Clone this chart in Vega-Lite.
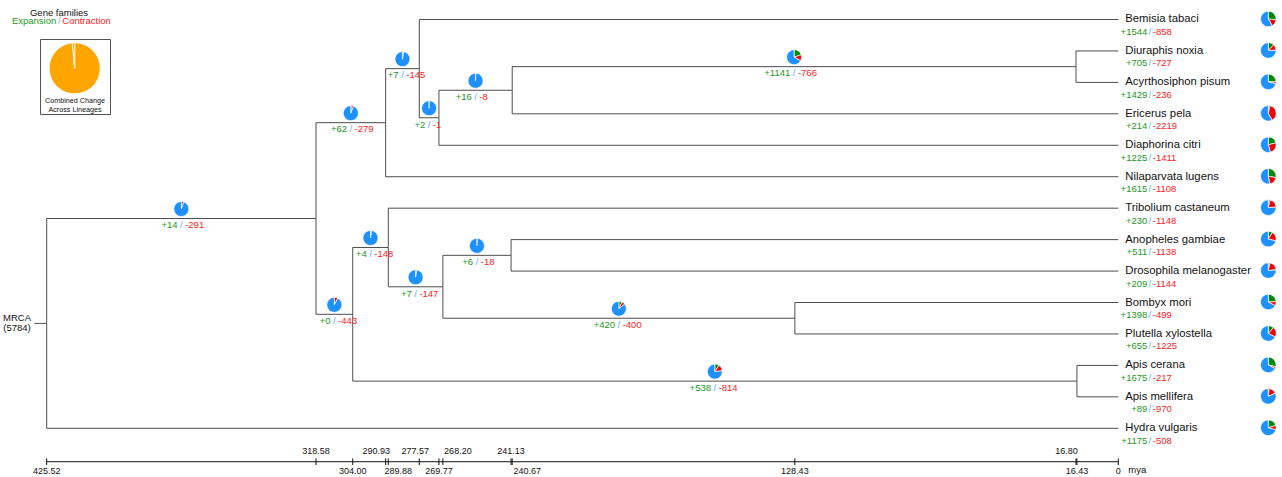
{
  "$schema": "https://vega.github.io/schema/vega-lite/v6.json",
  "width": 1282,
  "height": 477,
  "padding": 0,
  "autosize": {"type": "none"},
  "background": "white",
  "config": {
    "view": {"stroke": null},
    "font": "Liberation Sans",
    "locale": {"number": {"decimal": ".", "thousands": ",", "grouping": [3], "currency": ["$", ""], "minus": "-"}}
  },
  "datasets": {
    "phylo": [
      {"name": "Bemisia tabaci", "leaf": true, "t": 0, "pt": 277.57, "y": 0, "py": 1.5625, "gain": 1544, "loss": -858, "same": 3382},
      {"name": "Diuraphis noxia", "leaf": true, "t": 0, "pt": 16.80, "y": 1, "py": 1.5, "gain": 705, "loss": -727, "same": 4352},
      {"name": "Acyrthosiphon pisum", "leaf": true, "t": 0, "pt": 16.80, "y": 2, "py": 1.5, "gain": 1429, "loss": -236, "same": 4119},
      {"name": "Ericerus pela", "leaf": true, "t": 0, "pt": 240.67, "y": 3, "py": 2.25, "gain": 214, "loss": -2219, "same": 3351},
      {"name": "Diaphorina citri", "leaf": true, "t": 0, "pt": 269.77, "y": 4, "py": 3.125, "gain": 1225, "loss": -1411, "same": 3148},
      {"name": "Nilaparvata lugens", "leaf": true, "t": 0, "pt": 290.93, "y": 5, "py": 3.28125, "gain": 1615, "loss": -1108, "same": 3061},
      {"name": "Tribolium castaneum", "leaf": true, "t": 0, "pt": 289.88, "y": 6, "py": 7.25, "gain": 230, "loss": -1148, "same": 4406},
      {"name": "Anopheles gambiae", "leaf": true, "t": 0, "pt": 241.13, "y": 7, "py": 7.5, "gain": 511, "loss": -1138, "same": 4135},
      {"name": "Drosophila melanogaster", "leaf": true, "t": 0, "pt": 241.13, "y": 8, "py": 7.5, "gain": 209, "loss": -1144, "same": 4431},
      {"name": "Bombyx mori", "leaf": true, "t": 0, "pt": 128.43, "y": 9, "py": 9.5, "gain": 1398, "loss": -499, "same": 3887},
      {"name": "Plutella xylostella", "leaf": true, "t": 0, "pt": 128.43, "y": 10, "py": 9.5, "gain": 655, "loss": -1225, "same": 3904},
      {"name": "Apis cerana", "leaf": true, "t": 0, "pt": 16.43, "y": 11, "py": 11.5, "gain": 1675, "loss": -217, "same": 3892},
      {"name": "Apis mellifera", "leaf": true, "t": 0, "pt": 16.43, "y": 12, "py": 11.5, "gain": 89, "loss": -970, "same": 4725},
      {"name": "Hydra vulgaris", "leaf": true, "t": 0, "pt": 425.52, "y": 13, "py": 9.6640625, "gain": 1175, "loss": -508, "same": 4101},
      {"name": "N318.58", "leaf": false, "t": 318.58, "pt": 425.52, "y": 6.328125, "py": 9.6640625, "tm": 372.05, "gain": 14, "loss": -291, "same": 5479},
      {"name": "N290.93", "leaf": false, "t": 290.93, "pt": 318.58, "y": 3.28125, "py": 6.328125, "tm": 304.755, "gain": 62, "loss": -279, "same": 5443},
      {"name": "N304.00", "leaf": false, "t": 304.00, "pt": 318.58, "y": 9.375, "py": 6.328125, "tm": 311.29, "gain": 0, "loss": -443, "same": 5341},
      {"name": "N277.57", "leaf": false, "t": 277.57, "pt": 290.93, "y": 1.5625, "py": 3.28125, "tm": 284.25, "gain": 7, "loss": -145, "same": 5632},
      {"name": "N269.77", "leaf": false, "t": 269.77, "pt": 277.57, "y": 3.125, "py": 1.5625, "tm": 273.67, "gain": 2, "loss": -1, "same": 5781},
      {"name": "N240.67", "leaf": false, "t": 240.67, "pt": 269.77, "y": 2.25, "py": 3.125, "tm": 255.22, "gain": 16, "loss": -8, "same": 5760},
      {"name": "N16.80", "leaf": false, "t": 16.80, "pt": 240.67, "y": 1.5, "py": 2.25, "tm": 128.735, "gain": 1141, "loss": -766, "same": 3877},
      {"name": "N289.88", "leaf": false, "t": 289.88, "pt": 304.00, "y": 7.25, "py": 9.375, "tm": 296.94, "gain": 4, "loss": -148, "same": 5632},
      {"name": "N268.20", "leaf": false, "t": 268.20, "pt": 289.88, "y": 8.5, "py": 7.25, "tm": 279.04, "gain": 7, "loss": -147, "same": 5630},
      {"name": "N241.13", "leaf": false, "t": 241.13, "pt": 268.20, "y": 7.5, "py": 8.5, "tm": 254.665, "gain": 6, "loss": -18, "same": 5760},
      {"name": "N128.43", "leaf": false, "t": 128.43, "pt": 268.20, "y": 9.5, "py": 8.5, "tm": 198.315, "gain": 420, "loss": -400, "same": 4964},
      {"name": "N16.43", "leaf": false, "t": 16.43, "pt": 304.00, "y": 11.5, "py": 9.375, "tm": 160.215, "gain": 538, "loss": -814, "same": 4432}
    ],
    "mrca": [
      {"name": "MRCA", "t": 425.52, "y": 9.6640625, "label": "MRCA\n(5784)"}
    ],
    "timeticks": [
      {"t": 425.52, "label": "425.52", "side": "below"},
      {"t": 318.58, "label": "318.58", "side": "above"},
      {"t": 304.00, "label": "304.00", "side": "below"},
      {"t": 290.93, "label": "290.93", "side": "above"},
      {"t": 289.88, "label": "289.88", "side": "below"},
      {"t": 277.57, "label": "277.57", "side": "above"},
      {"t": 269.77, "label": "269.77", "side": "below"},
      {"t": 268.20, "label": "268.20", "side": "above"},
      {"t": 241.13, "label": "241.13", "side": "above"},
      {"t": 240.67, "label": "240.67", "side": "below"},
      {"t": 128.43, "label": "128.43", "side": "below"},
      {"t": 16.80, "label": "16.80", "side": "above"},
      {"t": 16.43, "label": "16.43", "side": "below"},
      {"t": 0, "label": "0", "side": "below"}
    ],
    "legendpie": [
      {"part": "combined", "v": 0.985},
      {"part": "rest", "v": 0.015}
    ]
  },
  "layer": [
    {
      "data": {"name": "phylo"},
      "mark": {"type": "rule", "color": "#4d4d4d", "strokeWidth": 1},
      "encoding": {
        "x": {"field": "pt", "type": "quantitative", "scale": {"domain": [-65.003, 444.064], "reverse": true, "zero": false, "nice": false}, "axis": null},
        "x2": {"field": "t"},
        "y": {"field": "y", "type": "quantitative", "scale": {"domain": [-0.6201, 14.549], "reverse": true, "zero": false, "nice": false}, "axis": null}
      }
    },
    {
      "data": {"name": "phylo"},
      "mark": {"type": "rule", "color": "#4d4d4d", "strokeWidth": 1},
      "encoding": {
        "x": {"field": "pt", "type": "quantitative", "scale": {"domain": [-65.003, 444.064], "reverse": true, "zero": false, "nice": false}, "axis": null},
        "y": {"field": "py", "type": "quantitative", "scale": {"domain": [-0.6201, 14.549], "reverse": true, "zero": false, "nice": false}, "axis": null},
        "y2": {"field": "y"}
      }
    },
    {
      "data": {"name": "mrca"},
      "mark": {"type": "rule", "color": "#4d4d4d", "strokeWidth": 1, "xOffset": -12.4},
      "encoding": {
        "x": {"field": "t", "type": "quantitative", "scale": {"domain": [-65.003, 444.064], "reverse": true, "zero": false, "nice": false}, "axis": null},
        "x2": {"field": "t"},
        "y": {"field": "y", "type": "quantitative", "scale": {"domain": [-0.6201, 14.549], "reverse": true, "zero": false, "nice": false}, "axis": null}
      }
    },
    {
      "data": {"name": "mrca"},
      "mark": {"type": "text", "align": "center", "baseline": "middle", "dx": -29.7, "dy": -5.5, "fontSize": 9.5, "lineBreak": "\n", "lineHeight": 10, "color": "#111"},
      "encoding": {
        "x": {"field": "t", "type": "quantitative", "scale": {"domain": [-65.003, 444.064], "reverse": true, "zero": false, "nice": false}, "axis": null},
        "y": {"field": "y", "type": "quantitative", "scale": {"domain": [-0.6201, 14.549], "reverse": true, "zero": false, "nice": false}, "axis": null},
        "text": {"field": "label"}
      }
    },
    {
      "data": {"name": "timeticks"},
      "mark": {"type": "rule", "color": "#111", "strokeWidth": 1, "yOffset": 2},
      "encoding": {
        "x": {"aggregate": "max", "field": "t", "type": "quantitative", "scale": {"domain": [-65.003, 444.064], "reverse": true, "zero": false, "nice": false}, "axis": null},
        "x2": {"aggregate": "min", "field": "t"},
        "y": {"datum": 14, "type": "quantitative", "scale": {"domain": [-0.6201, 14.549], "reverse": true, "zero": false, "nice": false}, "axis": null}
      }
    },
    {
      "data": {"name": "timeticks"},
      "mark": {"type": "rule", "color": "#111", "strokeWidth": 1, "yOffset": -1.3, "y2Offset": 5.3},
      "encoding": {
        "x": {"field": "t", "type": "quantitative", "scale": {"domain": [-65.003, 444.064], "reverse": true, "zero": false, "nice": false}, "axis": null},
        "y": {"datum": 14, "type": "quantitative", "scale": {"domain": [-0.6201, 14.549], "reverse": true, "zero": false, "nice": false}, "axis": null},
        "y2": {"datum": 14}
      }
    },
    {
      "data": {"name": "timeticks"},
      "transform": [{"filter": {"field": "label", "oneOf": ["318.58", "241.13"]}}],
      "mark": {"type": "text", "align": "center", "baseline": "middle", "dy": -9, "fontSize": 9, "color": "#111"},
      "encoding": {
        "x": {"field": "t", "type": "quantitative", "scale": {"domain": [-65.003, 444.064], "reverse": true, "zero": false, "nice": false}, "axis": null},
        "y": {"datum": 14, "type": "quantitative", "scale": {"domain": [-0.6201, 14.549], "reverse": true, "zero": false, "nice": false}, "axis": null},
        "text": {"field": "label"}
      }
    },
    {
      "data": {"name": "timeticks"},
      "transform": [{"filter": {"field": "label", "oneOf": ["290.93", "16.80"]}}],
      "mark": {"type": "text", "align": "center", "baseline": "middle", "dx": -9.5, "dy": -9, "fontSize": 9, "color": "#111"},
      "encoding": {
        "x": {"field": "t", "type": "quantitative", "scale": {"domain": [-65.003, 444.064], "reverse": true, "zero": false, "nice": false}, "axis": null},
        "y": {"datum": 14, "type": "quantitative", "scale": {"domain": [-0.6201, 14.549], "reverse": true, "zero": false, "nice": false}, "axis": null},
        "text": {"field": "label"}
      }
    },
    {
      "data": {"name": "timeticks"},
      "transform": [{"filter": {"field": "label", "oneOf": ["277.57"]}}],
      "mark": {"type": "text", "align": "center", "baseline": "middle", "dx": -4, "dy": -9, "fontSize": 9, "color": "#111"},
      "encoding": {
        "x": {"field": "t", "type": "quantitative", "scale": {"domain": [-65.003, 444.064], "reverse": true, "zero": false, "nice": false}, "axis": null},
        "y": {"datum": 14, "type": "quantitative", "scale": {"domain": [-0.6201, 14.549], "reverse": true, "zero": false, "nice": false}, "axis": null},
        "text": {"field": "label"}
      }
    },
    {
      "data": {"name": "timeticks"},
      "transform": [{"filter": {"field": "label", "oneOf": ["268.20"]}}],
      "mark": {"type": "text", "align": "center", "baseline": "middle", "dx": 15, "dy": -9, "fontSize": 9, "color": "#111"},
      "encoding": {
        "x": {"field": "t", "type": "quantitative", "scale": {"domain": [-65.003, 444.064], "reverse": true, "zero": false, "nice": false}, "axis": null},
        "y": {"datum": 14, "type": "quantitative", "scale": {"domain": [-0.6201, 14.549], "reverse": true, "zero": false, "nice": false}, "axis": null},
        "text": {"field": "label"}
      }
    },
    {
      "data": {"name": "timeticks"},
      "transform": [{"filter": {"field": "label", "oneOf": ["425.52", "304.00", "269.77", "128.43", "16.43", "0"]}}],
      "mark": {"type": "text", "align": "center", "baseline": "middle", "dy": 10.8, "fontSize": 9, "color": "#111"},
      "encoding": {
        "x": {"field": "t", "type": "quantitative", "scale": {"domain": [-65.003, 444.064], "reverse": true, "zero": false, "nice": false}, "axis": null},
        "y": {"datum": 14, "type": "quantitative", "scale": {"domain": [-0.6201, 14.549], "reverse": true, "zero": false, "nice": false}, "axis": null},
        "text": {"field": "label"}
      }
    },
    {
      "data": {"name": "timeticks"},
      "transform": [{"filter": {"field": "label", "oneOf": ["289.88"]}}],
      "mark": {"type": "text", "align": "center", "baseline": "middle", "dx": 10, "dy": 10.8, "fontSize": 9, "color": "#111"},
      "encoding": {
        "x": {"field": "t", "type": "quantitative", "scale": {"domain": [-65.003, 444.064], "reverse": true, "zero": false, "nice": false}, "axis": null},
        "y": {"datum": 14, "type": "quantitative", "scale": {"domain": [-0.6201, 14.549], "reverse": true, "zero": false, "nice": false}, "axis": null},
        "text": {"field": "label"}
      }
    },
    {
      "data": {"name": "timeticks"},
      "transform": [{"filter": {"field": "label", "oneOf": ["240.67"]}}],
      "mark": {"type": "text", "align": "center", "baseline": "middle", "dx": 15, "dy": 10.8, "fontSize": 9, "color": "#111"},
      "encoding": {
        "x": {"field": "t", "type": "quantitative", "scale": {"domain": [-65.003, 444.064], "reverse": true, "zero": false, "nice": false}, "axis": null},
        "y": {"datum": 14, "type": "quantitative", "scale": {"domain": [-0.6201, 14.549], "reverse": true, "zero": false, "nice": false}, "axis": null},
        "text": {"field": "label"}
      }
    },
    {
      "data": {"name": "timeticks"},
      "transform": [{"filter": {"field": "label", "equal": "0"}}],
      "mark": {"type": "text", "align": "left", "baseline": "middle", "dx": 10, "dy": 10.3, "fontSize": 9.5, "color": "#111"},
      "encoding": {
        "x": {"field": "t", "type": "quantitative", "scale": {"domain": [-65.003, 444.064], "reverse": true, "zero": false, "nice": false}, "axis": null},
        "y": {"datum": 14, "type": "quantitative", "scale": {"domain": [-0.6201, 14.549], "reverse": true, "zero": false, "nice": false}, "axis": null},
        "text": {"value": "mya"}
      }
    },
    {
      "data": {"name": "phylo"},
      "transform": [
        {"filter": "datum.leaf"},
        {"fold": ["gain", "loss", "same"], "as": ["kind", "n"]},
        {"stack": "n", "groupby": ["name"], "sort": [{"field": "kind", "order": "ascending"}], "offset": "normalize", "as": ["f0", "f1"]}
      ],
      "mark": {"type": "arc", "outerRadius": 7.8, "stroke": "white", "strokeWidth": 0.7, "xOffset": 150, "yOffset": -0.5},
      "encoding": {
        "x": {"field": "t", "type": "quantitative", "scale": {"domain": [-65.003, 444.064], "reverse": true, "zero": false, "nice": false}, "axis": null},
        "y": {"field": "y", "type": "quantitative", "scale": {"domain": [-0.6201, 14.549], "reverse": true, "zero": false, "nice": false}, "axis": null},
        "theta": {"field": "f0", "type": "quantitative", "stack": null, "scale": {"domain": [0, 1], "range": [0, 6.283185307]}},
        "theta2": {"field": "f1"},
        "color": {"field": "kind", "type": "nominal", "scale": {"domain": ["gain", "loss", "same", "combined", "rest"], "range": ["#008a00", "#ee0000", "#1e90ff", "#ffa500", "#ffa500"]}, "legend": null}
      }
    },
    {
      "data": {"name": "phylo"},
      "transform": [
        {"filter": "!datum.leaf"},
        {"fold": ["gain", "loss", "same"], "as": ["kind", "n"]},
        {"stack": "n", "groupby": ["name"], "sort": [{"field": "kind", "order": "ascending"}], "offset": "normalize", "as": ["f0", "f1"]}
      ],
      "mark": {"type": "arc", "outerRadius": 7.5, "stroke": "white", "strokeWidth": 0.7, "yOffset": -9.5},
      "encoding": {
        "x": {"field": "tm", "type": "quantitative", "scale": {"domain": [-65.003, 444.064], "reverse": true, "zero": false, "nice": false}, "axis": null},
        "y": {"field": "y", "type": "quantitative", "scale": {"domain": [-0.6201, 14.549], "reverse": true, "zero": false, "nice": false}, "axis": null},
        "theta": {"field": "f0", "type": "quantitative", "stack": null, "scale": {"domain": [0, 1], "range": [0, 6.283185307]}},
        "theta2": {"field": "f1"},
        "color": {"field": "kind", "type": "nominal", "scale": {"domain": ["gain", "loss", "same", "combined", "rest"], "range": ["#008a00", "#ee0000", "#1e90ff", "#ffa500", "#ffa500"]}, "legend": null}
      }
    },
    {
      "data": {"name": "phylo"},
      "transform": [{"filter": "datum.leaf"}],
      "mark": {"type": "text", "align": "left", "baseline": "middle", "dx": 7, "fontSize": 11.3, "color": "#111"},
      "encoding": {
        "x": {"field": "t", "type": "quantitative", "scale": {"domain": [-65.003, 444.064], "reverse": true, "zero": false, "nice": false}, "axis": null},
        "y": {"field": "y", "type": "quantitative", "scale": {"domain": [-0.6201, 14.549], "reverse": true, "zero": false, "nice": false}, "axis": null},
        "text": {"field": "name"}
      }
    },
    {
      "data": {"name": "phylo"},
      "transform": [{"filter": "datum.leaf"}],
      "mark": {"type": "text", "align": "right", "baseline": "middle", "dx": 29, "dy": 12.5, "fontSize": 9.5, "color": "#229922"},
      "encoding": {
        "x": {"field": "t", "type": "quantitative", "scale": {"domain": [-65.003, 444.064], "reverse": true, "zero": false, "nice": false}, "axis": null},
        "y": {"field": "y", "type": "quantitative", "scale": {"domain": [-0.6201, 14.549], "reverse": true, "zero": false, "nice": false}, "axis": null},
        "text": {"field": "gain", "type": "quantitative", "format": "+d"}
      }
    },
    {
      "data": {"name": "phylo"},
      "transform": [{"filter": "datum.leaf"}],
      "mark": {"type": "text", "align": "center", "baseline": "middle", "dx": 31.5, "dy": 12.5, "fontSize": 9.5, "color": "#6ab0f0"},
      "encoding": {
        "x": {"field": "t", "type": "quantitative", "scale": {"domain": [-65.003, 444.064], "reverse": true, "zero": false, "nice": false}, "axis": null},
        "y": {"field": "y", "type": "quantitative", "scale": {"domain": [-0.6201, 14.549], "reverse": true, "zero": false, "nice": false}, "axis": null},
        "text": {"value": "/"}
      }
    },
    {
      "data": {"name": "phylo"},
      "transform": [{"filter": "datum.leaf"}],
      "mark": {"type": "text", "align": "left", "baseline": "middle", "dx": 34.5, "dy": 12.5, "fontSize": 9.5, "color": "#ff2222"},
      "encoding": {
        "x": {"field": "t", "type": "quantitative", "scale": {"domain": [-65.003, 444.064], "reverse": true, "zero": false, "nice": false}, "axis": null},
        "y": {"field": "y", "type": "quantitative", "scale": {"domain": [-0.6201, 14.549], "reverse": true, "zero": false, "nice": false}, "axis": null},
        "text": {"field": "loss", "type": "quantitative", "format": "d"}
      }
    },
    {
      "data": {"name": "phylo"},
      "transform": [{"filter": "!datum.leaf"}],
      "mark": {"type": "text", "align": "right", "baseline": "middle", "dx": -3.8, "dy": 6.8, "fontSize": 9.5, "color": "#229922"},
      "encoding": {
        "x": {"field": "tm", "type": "quantitative", "scale": {"domain": [-65.003, 444.064], "reverse": true, "zero": false, "nice": false}, "axis": null},
        "y": {"field": "y", "type": "quantitative", "scale": {"domain": [-0.6201, 14.549], "reverse": true, "zero": false, "nice": false}, "axis": null},
        "text": {"field": "gain", "type": "quantitative", "format": "+d"}
      }
    },
    {
      "data": {"name": "phylo"},
      "transform": [{"filter": "!datum.leaf"}],
      "mark": {"type": "text", "align": "center", "baseline": "middle", "dx": 0, "dy": 6.8, "fontSize": 9.5, "color": "#6ab0f0"},
      "encoding": {
        "x": {"field": "tm", "type": "quantitative", "scale": {"domain": [-65.003, 444.064], "reverse": true, "zero": false, "nice": false}, "axis": null},
        "y": {"field": "y", "type": "quantitative", "scale": {"domain": [-0.6201, 14.549], "reverse": true, "zero": false, "nice": false}, "axis": null},
        "text": {"value": "/"}
      }
    },
    {
      "data": {"name": "phylo"},
      "transform": [{"filter": "!datum.leaf"}],
      "mark": {"type": "text", "align": "left", "baseline": "middle", "dx": 3.8, "dy": 6.8, "fontSize": 9.5, "color": "#ff2222"},
      "encoding": {
        "x": {"field": "tm", "type": "quantitative", "scale": {"domain": [-65.003, 444.064], "reverse": true, "zero": false, "nice": false}, "axis": null},
        "y": {"field": "y", "type": "quantitative", "scale": {"domain": [-0.6201, 14.549], "reverse": true, "zero": false, "nice": false}, "axis": null},
        "text": {"field": "loss", "type": "quantitative", "format": "d"}
      }
    },
    {
      "data": {"values": [{"box": "legend"}]},
      "mark": {"type": "rect", "fill": "white", "stroke": "#555", "strokeWidth": 1},
      "encoding": {
        "x": {"value": 40.5},
        "x2": {"value": 110.5},
        "y": {"value": 39.5},
        "y2": {"value": 114.5}
      }
    },
    {
      "data": {"name": "legendpie"},
      "mark": {"type": "arc", "outerRadius": 25.5, "stroke": "white", "strokeWidth": 0.8},
      "encoding": {
        "x": {"value": 74.7},
        "y": {"value": 68.3},
        "theta": {"field": "v", "type": "quantitative", "scale": {"domain": [0, 1], "range": [0, 6.283185307]}},
        "color": {"field": "part", "type": "nominal", "scale": {"domain": ["gain", "loss", "same", "combined", "rest"], "range": ["#008a00", "#ee0000", "#1e90ff", "#ffa500", "#ffa500"]}, "legend": null},
        "order": {"field": "part", "sort": "ascending"}
      }
    },
    {
      "data": {"values": [{"text": "Combined Change\nAcross Lineages"}]},
      "mark": {"type": "text", "align": "center", "baseline": "middle", "fontSize": 7.2, "lineBreak": "\n", "lineHeight": 9.3, "color": "#111"},
      "encoding": {
        "x": {"value": 75},
        "y": {"value": 100.5},
        "text": {"field": "text"}
      }
    },
    {
      "data": {"values": [{"text": "Gene families"}]},
      "mark": {"type": "text", "align": "center", "baseline": "middle", "fontSize": 9.5, "color": "#111"},
      "encoding": {
        "x": {"value": 59},
        "y": {"value": 12.5},
        "text": {"field": "text"}
      }
    },
    {
      "data": {"values": [{"text": "Expansion"}]},
      "mark": {"type": "text", "align": "right", "baseline": "middle", "fontSize": 9.5, "color": "#229922"},
      "encoding": {
        "x": {"value": 56.3},
        "y": {"value": 21.3},
        "text": {"field": "text"}
      }
    },
    {
      "data": {"values": [{"text": "/"}]},
      "mark": {"type": "text", "align": "center", "baseline": "middle", "fontSize": 9.5, "color": "#6ab0f0"},
      "encoding": {
        "x": {"value": 59.3},
        "y": {"value": 21.3},
        "text": {"field": "text"}
      }
    },
    {
      "data": {"values": [{"text": "Contraction"}]},
      "mark": {"type": "text", "align": "left", "baseline": "middle", "fontSize": 9.5, "color": "#ff2222"},
      "encoding": {
        "x": {"value": 62.3},
        "y": {"value": 21.3},
        "text": {"field": "text"}
      }
    }
  ]
}
